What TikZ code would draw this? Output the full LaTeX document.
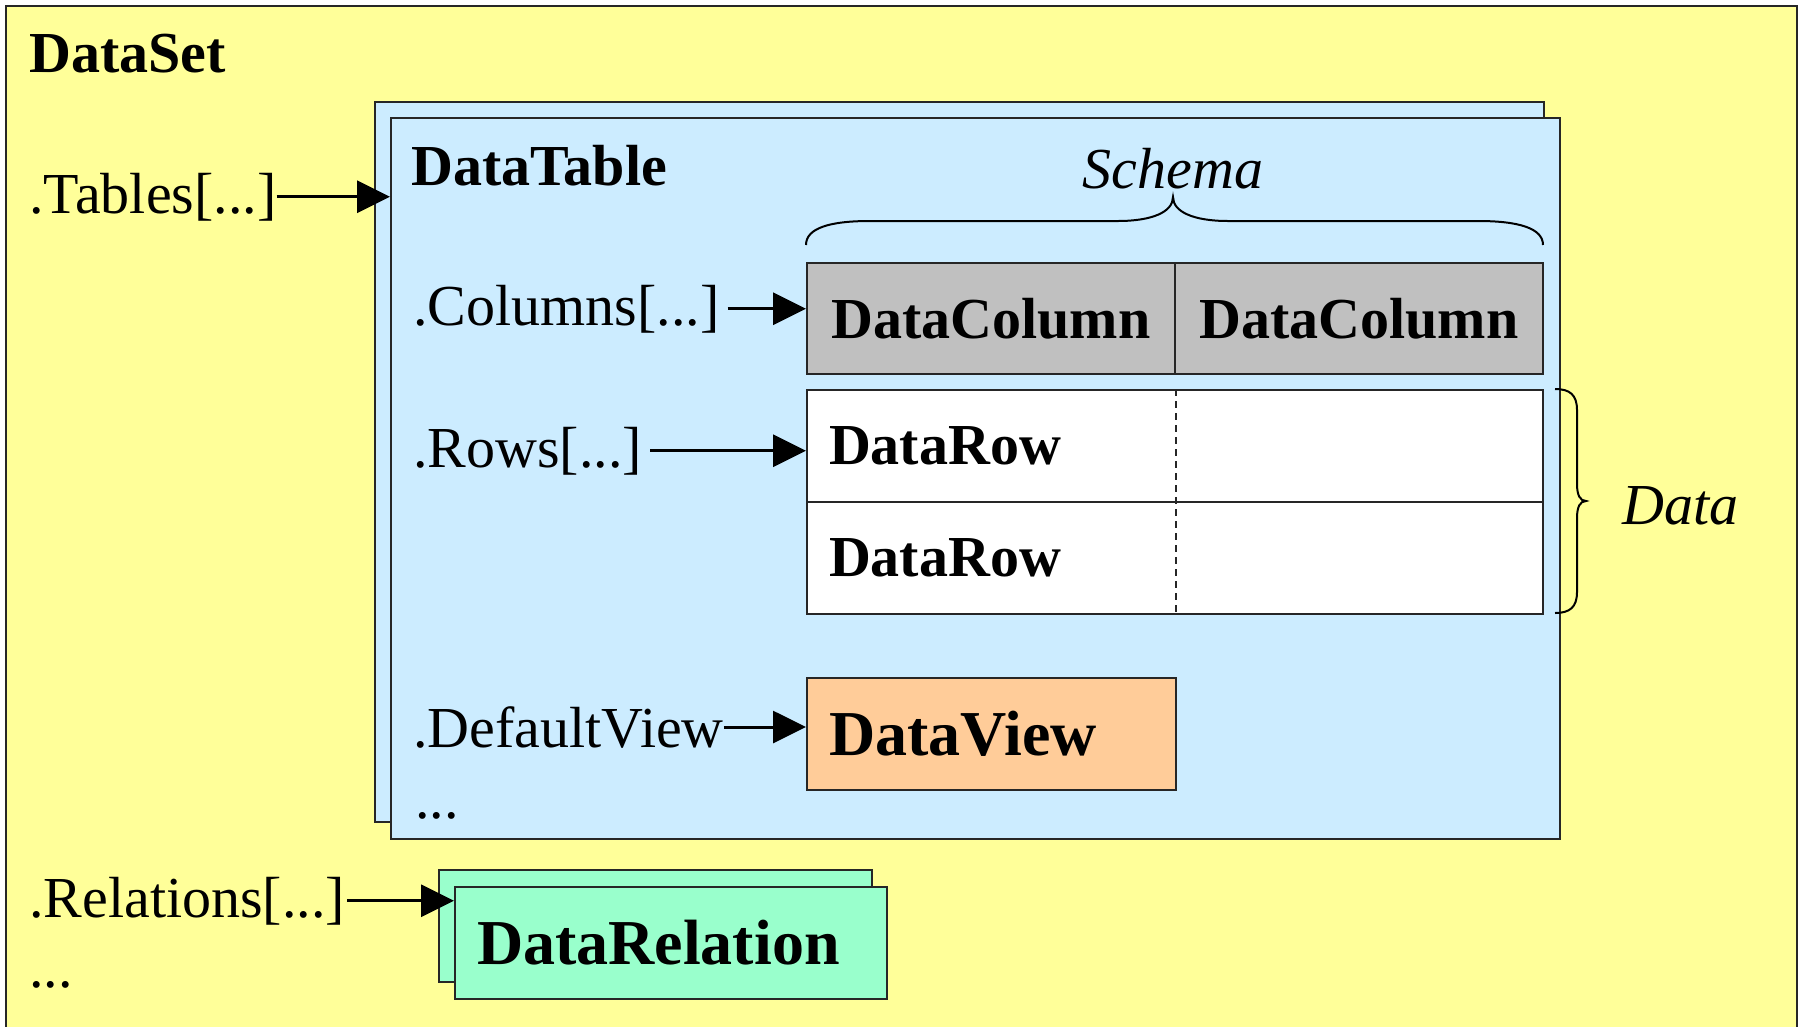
\documentclass[tikz,border=0pt]{standalone}
\usepackage{fontspec}
\setmainfont{Liberation Serif}
\usetikzlibrary{arrows.meta}
\definecolor{dsyellow}{HTML}{FFFF99}
\definecolor{dtblue}{HTML}{CCECFF}
\definecolor{colgray}{HTML}{C0C0C0}
\definecolor{dvorange}{HTML}{FFCC99}
\definecolor{relgreen}{HTML}{99FFCC}
\begin{document}
\begin{tikzpicture}[x=1pt,y=-1pt,
  box/.style={draw=black!85, line width=2pt, inner sep=0pt, anchor=north west},
  txt/.style={anchor=base west, inner sep=0pt, font=\fontsize{58}{60}\selectfont},
  bigtxt/.style={font=\fontsize{58}{60}\selectfont\bfseries},
  hugetxt/.style={font=\fontsize{64}{66}\selectfont\bfseries},
  lefttxt/.style={align=left, inner xsep=22pt, inner ysep=0pt},
  arr/.style={line width=3pt, -{Triangle[length=33pt,width=32pt]}},
  bracepath/.style={line width=2pt}
]
% page and DataSet frame
\clip (0,0) rectangle (1802,1026);
\fill[white] (0,0) rectangle (1802,1026);
\draw[fill=dsyellow, draw=black!85, line width=2pt] (6,6) rectangle (1797,1060);

\node[txt, font=\fontsize{58}{60}\selectfont\bfseries] (dataset) at (29,72) {DataSet};
\node[txt] (tables) at (29,213) {.Tables[...]};
\node[txt] (relations) at (29,917) {.Relations[...]};
\node[txt] (dsmore) at (29,987) {...};

% DataTable stack
\node[box, fill=dtblue, minimum width=1169, minimum height=720] (dtback) at (374,101) {};
\node[box, fill=dtblue, minimum width=1169, minimum height=721] (dt) at (390,117) {};

\node[txt, font=\fontsize{58}{60}\selectfont\bfseries] (dttitle) at (411,185) {DataTable};
\node[txt] (columns) at (413,325) {.Columns[...]};
\node[txt] (rows) at (413,467) {.Rows[...]};
\node[txt] (defview) at (413,747) {.DefaultView};
\node[txt] (dtmore) at (415,818) {...};

% schema: columns
\node[box, fill=colgray, minimum width=368, minimum height=111, bigtxt] (col1) at (806,262) {DataColumn};
\node[box, fill=colgray, minimum width=368, minimum height=111, bigtxt] (col2) at (1174,262) {DataColumn};

% data: rows
\node[box, fill=white, text width=692, minimum height=112, bigtxt, lefttxt] (row1) at (806,389) {DataRow};
\node[box, fill=white, text width=692, minimum height=112, bigtxt, lefttxt] (row2) at (806,501) {DataRow};
\draw[black!85, line width=1.5pt, dash pattern=on 7pt off 5pt]
  (col1.south east |- row1.north) -- (col1.south east |- row2.south);

% default view
\node[box, fill=dvorange, text width=325, minimum height=112, hugetxt, lefttxt] (dview) at (806,677) {DataView};

% relations stack
\node[box, fill=relgreen, minimum width=433, minimum height=112] (relback) at (438,869) {};
\node[box, fill=relgreen, text width=388, minimum height=112, hugetxt, lefttxt] (rel) at (454,886) {DataRelation};

% braces
\draw[bracepath] (806,245) .. controls (806,228) and (830,221) .. (870,221) -- (1118,221)
  .. controls (1152,221) and (1173,212) .. (1173,197)
  .. controls (1173,212) and (1194,221) .. (1228,221) -- (1478,221)
  .. controls (1518,221) and (1543,228) .. (1543,245);
\node[txt, anchor=base, font=\fontsize{58}{60}\selectfont\itshape] (schema) at (1173,188) {Schema};

\draw[bracepath] (1555,389) .. controls (1570,389) and (1577,395) .. (1577,410) -- (1577,484)
  .. controls (1577,495) and (1580,501) .. (1586,501)
  .. controls (1580,501) and (1577,507) .. (1577,518) -- (1577,592)
  .. controls (1577,607) and (1570,613) .. (1555,613);
\node[txt, font=\fontsize{58}{60}\selectfont\itshape] (data) at (1622,524) {Data};

% references
\draw[arr] (tables.east) -- (tables.east -| dt.west);
\draw[arr] ([xshift=8pt]columns.east) -- (columns.east -| col1.west);
\draw[arr] ([xshift=8pt]rows.east) -- (rows.east -| row1.west);
\draw[arr] (defview.east) -- (defview.east -| dview.west);
\draw[arr] ([xshift=2pt]relations.east) -- (relations.east -| rel.west);
\end{tikzpicture}
\end{document}
